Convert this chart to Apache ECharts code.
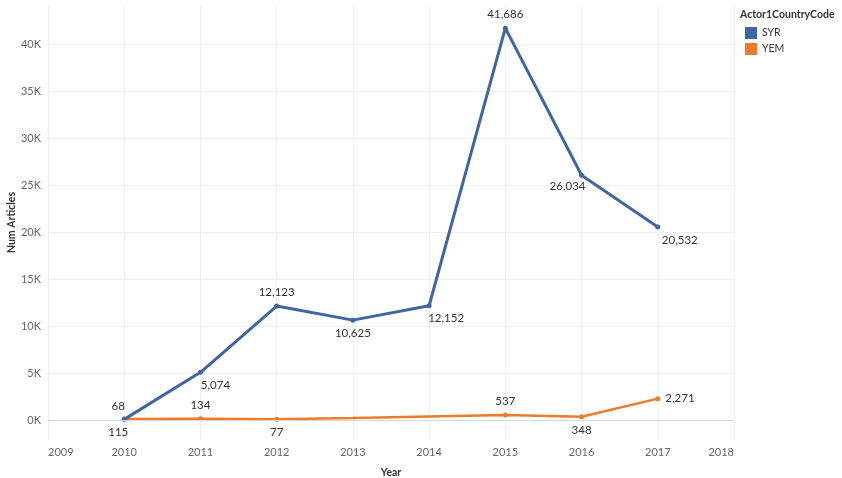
<!DOCTYPE html>
<html>
<head>
<meta charset="utf-8">
<script src="https://cdn.jsdelivr.net/npm/echarts@6/dist/echarts.min.js"></script>
<style>html,body{margin:0;padding:0;background:#fff}#c{width:842px;height:478px}</style>
</head>
<body>
<div id="c"></div>
<script>
var years = [2010, 2011, 2012, 2013, 2014, 2015, 2016, 2017];
var syr = [68, 5074, 12123, 10625, 12152, 41686, 26034, 20532];
var yem = [115, 134, 77, 205, 370, 537, 348, 2271];
var yTicks = [0, 5000, 10000, 15000, 20000, 25000, 30000, 35000, 40000];

var FONT = 'Lato, "Open Sans", sans-serif';
// label placement per point (style, not data)
var syrLab = [['top',[-6,0]],['bottom',[15,-1]],['top',[0,0]],['bottom',[0,0]],['bottom',[17,-1]],['top',[0,0]],['bottom',[-14,-2]],['bottom',[22,0]]];
var yemLab = [['bottom',[-6,0]],['top',[0,0]],['bottom',[0,0]],null,null,['top',[0,0]],['bottom',[0,0]],['right',[0,0]]];

function fmt(v){ return v.toLocaleString('en-US'); }
function build(vals, labs){
  return vals.map(function(v,i){
    var l = labs[i];
    var item = {value:[years[i], v]};
    if (l) {
      item.label = {show:true, position:l[0], offset:l[1], formatter: fmt(v)};
    } else {
      item.label = {show:false};
      item.symbolSize = 0;
    }
    return item;
  });
}

var chart = echarts.init(document.getElementById('c'), null, {renderer:'canvas'});
chart.setOption({
  animation:false,
  backgroundColor:'#fff',
  textStyle:{fontFamily:FONT},
  grid:{left:48, right:108, top:5, bottom:38, containLabel:false, outerBoundsMode:'none'},
  legend:{
    orient:'vertical', left:740, top:22, itemWidth:12, itemHeight:12, itemGap:4,
    icon:'rect', textStyle:{fontSize:10.5, color:'#333', fontFamily:FONT},
    data:['SYR','YEM']
  },
  graphic:[
    {type:'text', left:740, top:9, style:{text:'Actor1CountryCode', font:'bold 10.5px '+FONT, fill:'#333'}}
  ],
  xAxis:{
    type:'value', min:2009, max:2018, interval:1,
    name:'Year', nameLocation:'middle', nameGap:27, nameMoveOverlap:false,
    nameTextStyle:{fontSize:10.5, fontWeight:'bold', color:'#333', fontFamily:FONT},
    axisLine:{show:false}, axisTick:{show:false},
    axisLabel:{fontSize:11, color:'#666', margin:7, fontFamily:FONT,
      formatter:function(v){return String(v);}, alignMinLabel:'left', alignMaxLabel:'right'},
    splitLine:{show:true, lineStyle:{color:'#f0f0f0', width:1}}
  },
  yAxis:{
    type:'value', min:-2128, max:44150, splitNumber:9,
    name:'Num Articles', nameLocation:'middle', nameGap:31, nameMoveOverlap:false,
    nameTextStyle:{fontSize:10.5, fontWeight:'bold', color:'#333', fontFamily:FONT},
    axisLine:{show:false}, axisTick:{show:false},
    axisLabel:{fontSize:11, color:'#666', margin:7, fontFamily:FONT, showMinLabel:false, showMaxLabel:false,
      formatter:function(v){ return (yTicks.indexOf(v) >= 0) ? (v/1000)+'K' : ''; }},
    splitLine:{show:true, showMinLine:false, showMaxLine:false, lineStyle:{color:'#eeeeee', width:1}}
  },
  series:[
    {
      name:'SYR', type:'line', data:build(syr, syrLab),
      color:'#3f66a2', symbol:'circle', symbolSize:5,
      lineStyle:{width:3, color:'#3f66a2'}, itemStyle:{color:'#3f66a2'},
      label:{fontSize:11.5, color:'#333', fontFamily:FONT},
      markLine:{silent:true, symbol:'none', label:{show:false}, lineStyle:{color:'#d8d8d8', type:'solid', width:1},
        data:[{yAxis:0}]},
      z:3
    },
    {
      name:'YEM', type:'line', data:build(yem, yemLab),
      color:'#ed7b2c', symbol:'circle', symbolSize:5,
      lineStyle:{width:2.5, color:'#ed7b2c'}, itemStyle:{color:'#ed7b2c'},
      label:{fontSize:11.5, color:'#333', fontFamily:FONT},
      z:2
    }
  ]
});
</script>
</body>
</html>
